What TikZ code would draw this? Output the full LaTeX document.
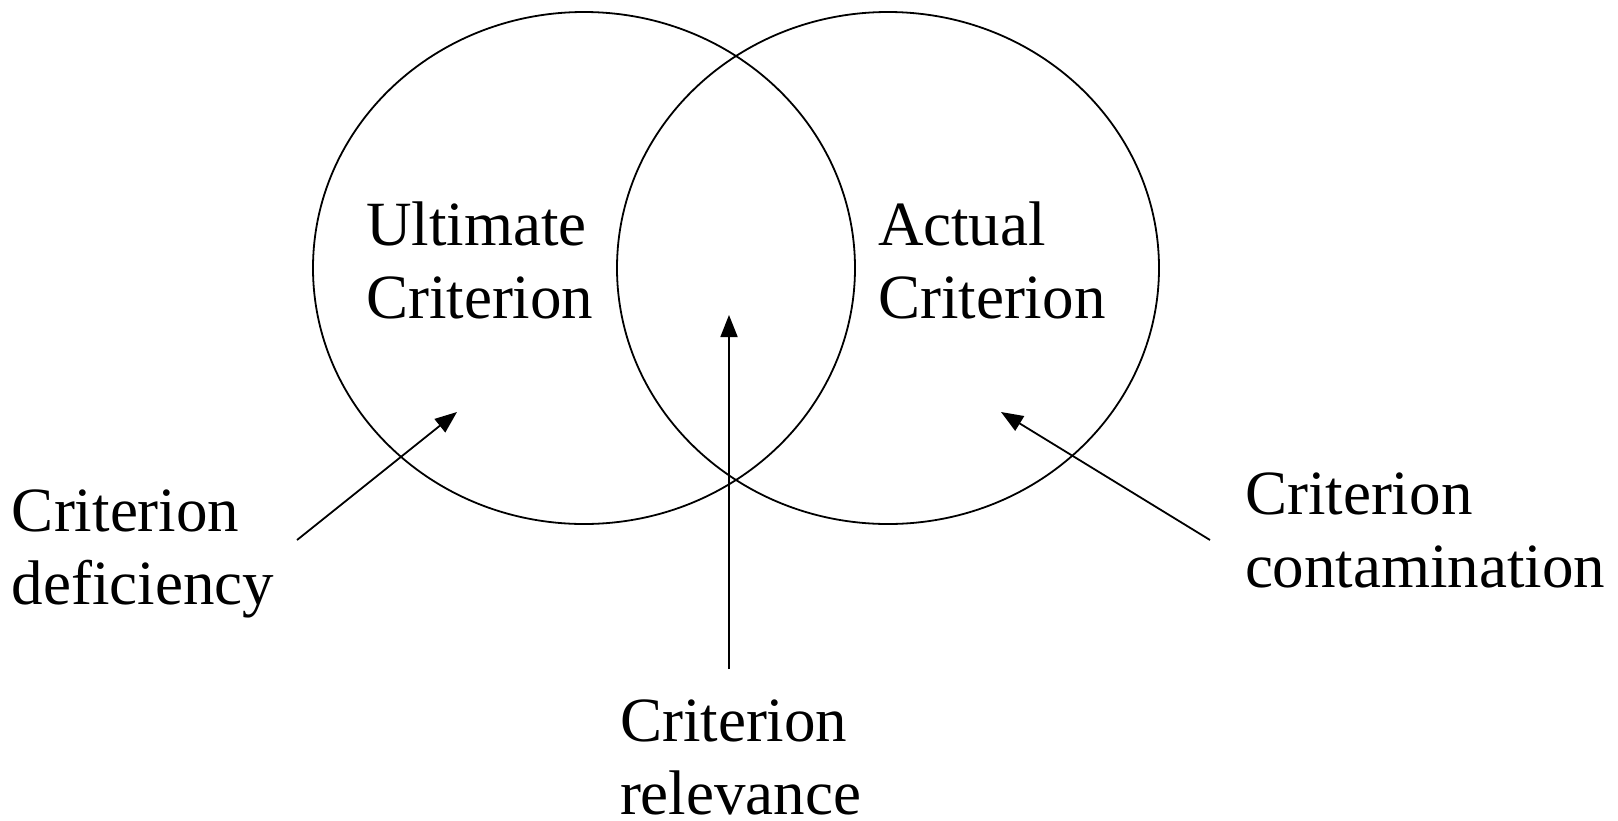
\documentclass[tikz,border=0pt]{standalone}
\usepackage{fontspec}
\setmainfont{Liberation Serif}
\usetikzlibrary{arrows.meta}
\begin{document}
\begin{tikzpicture}[x=1pt,y=-1pt,
  venn/.style={draw=black,line width=1.8pt},
  lbl/.style={anchor=base west,inner sep=0pt,outer sep=0pt,align=left,
    font=\fontsize{63}{73}\selectfont},
  pointer/.style={draw=black,line width=1.8pt,-{Triangle[length=22pt,width=17pt]}}]
\useasboundingbox (0,0) rectangle (1618,820);
\draw[venn] (584,268) ellipse [x radius=271, y radius=256];
\draw[venn] (888,268) ellipse [x radius=271, y radius=256];
% base anchor = baseline of the last line
\node[lbl] (ult) at (366,318) {Ultimate\\Criterion};
\node[lbl] (act) at (878,318) {Actual\\Criterion};
\node[lbl] (def) at (12,604) {Criterion\\deficiency};
\node[lbl] (con) at (1245,587) {Criterion\\contamination};
\node[lbl] (rel) at (620,814) {Criterion\\relevance};
\coordinate (defs) at (297,540);
\coordinate (deft) at (457,412);
\coordinate (rels) at (729,669);
\coordinate (relt) at (729,315);
\coordinate (cons) at (1210,540);
\coordinate (cont) at (1001,412);
\draw[pointer] (defs) -- (deft);
\draw[pointer] (rels) -- (relt);
\draw[pointer] (cons) -- (cont);
\end{tikzpicture}
\end{document}
